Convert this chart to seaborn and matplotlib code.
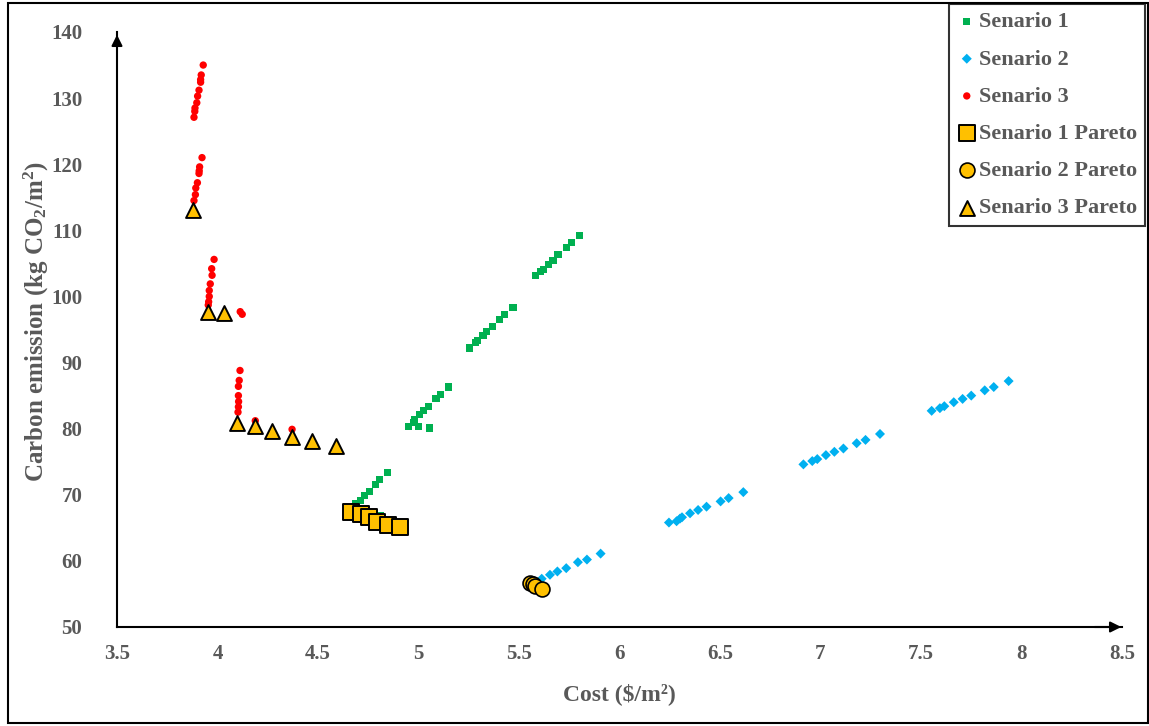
import numpy as np
import pandas as pd
import matplotlib
matplotlib.use("Agg")
import matplotlib.pyplot as plt
import seaborn as sns
from matplotlib.ticker import MultipleLocator
from matplotlib.patches import Rectangle

# ---------------- data ----------------
s1_x = [4.663, 4.687, 4.710, 4.730, 4.754, 4.785, 4.808, 4.845, 4.813, 4.948, 4.973, 4.981,
        5.001, 5.006, 5.026, 5.049, 5.054, 5.087, 5.108, 5.150, 5.256, 5.283, 5.293, 5.321,
        5.339, 5.366, 5.405, 5.430, 5.470, 5.581, 5.609, 5.622, 5.646, 5.669, 5.694, 5.735,
        5.759, 5.802]
s1_y = [67.8, 68.6, 69.2, 69.9, 70.5, 71.5, 72.3, 73.4, 66.8, 80.3, 81.0, 81.4,
        80.3, 82.1, 82.8, 83.4, 80.1, 84.6, 85.2, 86.3, 92.2, 93.0, 93.3, 94.1,
        94.7, 95.4, 96.5, 97.2, 98.3, 103.1, 103.8, 104.1, 104.8, 105.5, 106.3, 107.4,
        108.1, 109.2]

s2_x = [5.613, 5.654, 5.691, 5.735, 5.793, 5.838, 5.906,
        6.246, 6.284, 6.301, 6.311, 6.351, 6.391, 6.433, 6.503, 6.543, 6.616,
        6.915, 6.959, 6.984, 7.027, 7.069, 7.114, 7.180, 7.224, 7.296,
        7.553, 7.594, 7.616, 7.663, 7.707, 7.750, 7.817, 7.862, 7.936]
s2_y = [57.3, 57.9, 58.4, 58.9, 59.8, 60.2, 61.1,
        65.8, 66.0, 66.4, 66.6, 67.2, 67.7, 68.2, 69.0, 69.5, 70.4,
        74.6, 75.1, 75.4, 76.0, 76.5, 77.0, 77.8, 78.3, 79.2,
        82.7, 83.1, 83.4, 84.0, 84.5, 85.0, 85.8, 86.3, 87.2]

s3_x = [3.929, 3.919, 3.916, 3.916, 3.908, 3.901, 3.897, 3.888, 3.887, 3.883,
        3.923, 3.911, 3.909, 3.908, 3.900, 3.892, 3.890, 3.883,
        3.983, 3.971, 3.973, 3.964, 3.959, 3.959, 3.956, 3.954, 4.113, 4.123,
        4.112, 4.108, 4.104, 4.104, 4.105, 4.104, 4.102, 4.188, 4.371]
s3_y = [135.0, 133.5, 132.8, 132.4, 131.2, 130.3, 129.3, 128.5, 128.0, 127.1,
        121.0, 119.6, 119.0, 118.6, 117.2, 116.4, 115.4, 114.5,
        105.6, 104.2, 103.2, 101.9, 100.9, 100.0, 99.2, 98.7, 97.7, 97.3,
        88.8, 87.3, 86.4, 85.0, 84.1, 83.3, 82.5, 81.2, 79.9]

p1_x = [4.663, 4.714, 4.755, 4.792, 4.848, 4.909]
p1_y = [67.4, 67.1, 66.7, 65.9, 65.4, 65.2]

p2_x = [5.555, 5.571, 5.580, 5.613]
p2_y = [56.7, 56.5, 56.2, 55.7]

p3_x = [3.877, 3.951, 4.031, 4.099, 4.188, 4.271, 4.369, 4.472, 4.588]
p3_y = [113.1, 97.6, 97.5, 80.9, 80.4, 79.7, 78.8, 78.1, 77.4]

x_ticks = [3.5, 4, 4.5, 5, 5.5, 6, 6.5, 7, 7.5, 8, 8.5]
x_tick_labels = ["3.5", "4", "4.5", "5", "5.5", "6", "6.5", "7", "7.5", "8", "8.5"]
y_ticks = [50, 60, 70, 80, 90, 100, 110, 120, 130, 140]

# ---------------- style ----------------
sns.set_theme(style="white")
plt.rcParams["font.family"] = ["Liberation Serif", "DejaVu Serif"]
plt.rcParams["mathtext.fontset"] = "custom"
plt.rcParams["mathtext.rm"] = "Liberation Serif:bold"
plt.rcParams["mathtext.it"] = "Liberation Serif:bold"
plt.rcParams["mathtext.bf"] = "Liberation Serif:bold"

GRAY = "#595959"
GREEN = "#00B050"
BLUE = "#00B0F0"
RED = "#FF0000"
GOLD = "#FFC000"

fig = plt.figure(figsize=(11.49, 7.26), dpi=100)
ax = fig.add_axes([117 / 1149, 1 - 627 / 726, (1122 - 117) / 1149, (627 - 32) / 726])

series = [
    (s1_x, s1_y, "Senario 1", dict(marker="s", s=26, color=GREEN, edgecolor="none")),
    (s2_x, s2_y, "Senario 2", dict(marker="D", s=26, color=BLUE, edgecolor="none")),
    (s3_x, s3_y, "Senario 3", dict(marker="o", s=28, color=RED, edgecolor="none")),
    (p1_x, p1_y, "Senario 1 Pareto", dict(marker="s", s=135, color=GOLD, edgecolor="black", linewidth=1.4)),
    (p2_x, p2_y, "Senario 2 Pareto", dict(marker="o", s=115, color=GOLD, edgecolor="black", linewidth=1.2)),
    (p3_x, p3_y, "Senario 3 Pareto", dict(marker="^", s=115, color=GOLD, edgecolor="black", linewidth=1.4)),
]
for i, (xs, ys, lab, kw) in enumerate(series):
    df = pd.DataFrame({"x": xs, "y": ys})
    sns.scatterplot(data=df, x="x", y="y", ax=ax, label=lab, zorder=3 + i, **kw)

ax.set_xlim(3.5, 8.5)
ax.set_ylim(50, 140)
ax.set_xticks(x_ticks)
ax.set_xticklabels(x_tick_labels)
ax.set_yticks(y_ticks)
ax.xaxis.set_minor_locator(MultipleLocator(0.1))
ax.yaxis.set_minor_locator(MultipleLocator(2))

for side in ["top", "right"]:
    ax.spines[side].set_visible(False)
for side in ["left", "bottom"]:
    ax.spines[side].set_color("black")
    ax.spines[side].set_linewidth(1.5)

ax.tick_params(axis="both", which="both", direction="in", color="black", width=1.2, length=6)
ax.tick_params(axis="y", which="major", pad=25, labelsize=15, labelcolor=GRAY)
ax.tick_params(axis="x", which="major", pad=12, labelsize=15, labelcolor=GRAY)
for lbl in ax.get_xticklabels() + ax.get_yticklabels():
    lbl.set_fontweight("bold")

ax.set_xlabel("Cost ($/m²)", fontsize=17, fontweight="bold", color=GRAY)
ax.xaxis.set_label_coords(0.5, -0.095)
ax.set_ylabel("Carbon emission (kg CO$_2$/m$^2$)", fontsize=18, fontweight="bold", color=GRAY)
ax.yaxis.set_label_coords(-0.066, 0.513)

# axis arrows
ax.annotate("", xy=(0, 1.0), xytext=(0, 0.97), xycoords="axes fraction",
            arrowprops=dict(arrowstyle="-|>", color="black", lw=1.5, mutation_scale=16))
ax.annotate("", xy=(1.002, 0), xytext=(0.97, 0), xycoords="axes fraction",
            arrowprops=dict(arrowstyle="-|>", color="black", lw=1.5, mutation_scale=16))

leg = ax.legend(loc="upper left", bbox_to_anchor=(949 / 1149, 1 - 4 / 726),
                bbox_transform=fig.transFigure, frameon=True, fancybox=False,
                prop={"family": "Liberation Serif", "weight": "bold", "size": 16},
                labelspacing=0.75, handletextpad=0.1, handlelength=0.9,
                borderpad=0.35, borderaxespad=0)
leg.get_frame().set_edgecolor("black")
leg.get_frame().set_linewidth(1.5)
for t in leg.get_texts():
    t.set_color(GRAY)

fig.patches.append(Rectangle((8 / 1149, 3 / 726), 1 - 9 / 1149, 1 - 6 / 726,
                             transform=fig.transFigure, fill=False, edgecolor="black", lw=1.5))

fig.savefig("out.png", dpi=100)
